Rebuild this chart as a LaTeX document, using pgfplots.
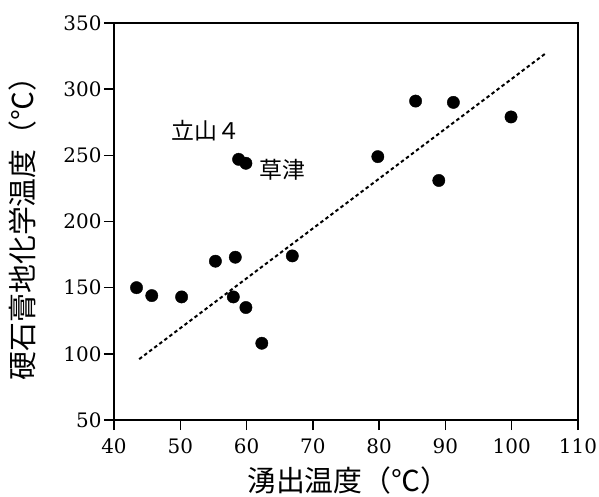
\documentclass[border=0pt]{standalone}
\usepackage{fontspec}
\setmainfont{DejaVu Serif}
\newfontfamily\cjk{Noto Sans CJK JP}
\usepackage{pgfplots}
\pgfplotsset{compat=1.18}
\begin{document}
\begin{tikzpicture}
\useasboundingbox (-114bp,-77bp) rectangle (485bp,420bp);
\begin{axis}[
  at={(0,0)}, anchor=south west,
  scale only axis, width=464bp, height=397bp,
  xmin=40, xmax=110, ymin=50, ymax=350,
  xtick={40,50,...,110}, ytick={50,100,...,350},
  axis line style={line width=1.6bp},
  tick style={line width=1.4bp, black},
  major tick length=10bp,
  tick align=outside,
  xtick pos=bottom, ytick pos=left,
  every tick label/.append style={font=\fontsize{20}{20}\selectfont},
  xticklabel style={yshift=-5bp},
  yticklabel style={xshift=1bp},
  /pgf/number format/assume math mode=true,
  xlabel={湧出温度（℃）},
  ylabel={硬石膏地化学温度（℃）},
  xlabel style={font=\cjk\fontsize{29}{29}\selectfont, at={(axis description cs:0.505,-0.153)}, anchor=center},
  ylabel style={font=\cjk\fontsize{29}{29}\selectfont, at={(axis description cs:-0.198,0.5)}, anchor=center},
  clip=false,
]
\addplot[only marks, mark=*, mark size=6.2pt, black] coordinates {
  (43.4,150) (45.7,144) (50.2,143) (55.3,170) (58.3,173) (58.0,143)
  (59.9,135) (62.3,108) (66.9,174) (58.8,247) (59.9,244) (79.8,249)
  (85.5,291) (91.2,290) (99.9,279) (89.0,231)
};
\addplot[black, line width=2bp, dash pattern=on 3.5bp off 2.8bp] coordinates {
  (43.8,96) (105.1,327)
};
\node[font=\cjk\fontsize{23}{23}\selectfont] at (axis cs:53.9,269) {立山４};
\node[font=\cjk\fontsize{23}{23}\selectfont] at (axis cs:65.4,239) {草津};
\end{axis}
\end{tikzpicture}
\end{document}
